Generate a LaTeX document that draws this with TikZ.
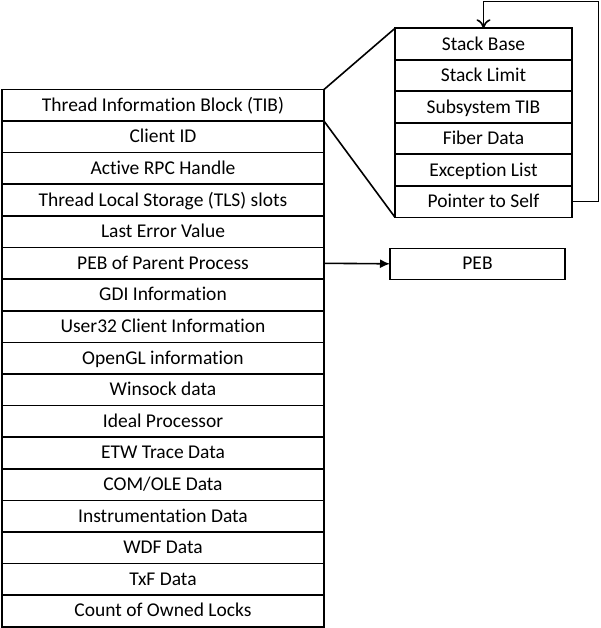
\documentclass[tikz,border=0pt]{standalone}
\usepackage{fontspec}
\setmainfont{Carlito}[Ligatures=NoCommon]
\usetikzlibrary{arrows.meta,positioning}

\tikzset{
  cell/.style={draw, line width=1.6pt, outer sep=0pt, inner sep=0pt,
    minimum width=322pt, minimum height=31.6pt,
    text height=16pt, text depth=4pt,
    font=\fontsize{19.5}{23}\selectfont},
  tibcell/.style={cell, minimum width=177pt, minimum height=31.5pt},
  link/.style={line width=1.6pt}
}

\begin{document}
\begin{tikzpicture}[x=1pt,y=-1pt]
      \useasboundingbox (0,0) rectangle (600,628);
      % thread environment block
      \node[cell] (tib) at (163,105.3) {Thread Information Block (TIB)};
      \node[cell, below=0pt of tib] (cid) {Client ID};
      \node[cell, below=0pt of cid] (rpc) {Active RPC Handle};
      \node[cell, below=0pt of rpc] (tls) {Thread Local Storage (TLS) slots};
      \node[cell, below=0pt of tls] (err) {Last Error Value};
      \node[cell, below=0pt of err] (ppeb) {PEB of Parent Process};
      \node[cell, below=0pt of ppeb] (gdi) {GDI Information};
      \node[cell, below=0pt of gdi] (user) {User32 Client Information};
      \node[cell, below=0pt of user] (ogl) {OpenGL information};
      \node[cell, below=0pt of ogl] (wsock) {Winsock data};
      \node[cell, below=0pt of wsock] (ideal) {Ideal Processor};
      \node[cell, below=0pt of ideal] (etw) {ETW Trace Data};
      \node[cell, below=0pt of etw] (com) {COM/OLE Data};
      \node[cell, below=0pt of com] (instr) {Instrumentation Data};
      \node[cell, below=0pt of instr] (wdf) {WDF Data};
      \node[cell, below=0pt of wdf] (txf) {TxF Data};
      \node[cell, below=0pt of txf] (locks) {Count of Owned Locks};
      % TIB fields
      \node[tibcell] (sbase) at (483.5,44.05) {Stack Base};
      \node[tibcell, below=0pt of sbase] (slimit) {Stack Limit};
      \node[tibcell, below=0pt of slimit] (subtib) {Subsystem TIB};
      \node[tibcell, below=0pt of subtib] (fiber) {Fiber Data};
      \node[tibcell, below=0pt of fiber] (exc) {Exception List};
      \node[tibcell, below=0pt of exc] (self) {Pointer to Self};
      \node[tibcell, minimum width=175pt, minimum height=31pt] (peb) at (477.5,263.8) {PEB};
      \coordinate (loop) at (598.5,1.5);
      \draw[link] (tib.north east) -- (sbase.north west);
      \draw[link] (tib.south east) -- (self.south west);
      \draw[link,-{Latex[length=10pt,width=9pt]}] (ppeb.east) -- (peb.west);
      \draw[link,-{To[length=9pt,width=14pt]}] (self.east) -| (loop) -| (sbase.north);
\end{tikzpicture}
\end{document}
